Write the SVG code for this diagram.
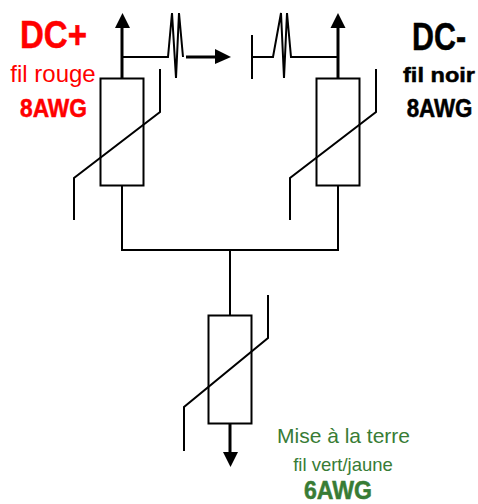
<svg xmlns="http://www.w3.org/2000/svg" width="478" height="504" viewBox="0 0 478 504">
<style>
.l{fill:none;stroke:#000;stroke-width:2}
.t{fill:none;stroke:#000;stroke-width:3}
.a{fill:#000}
.b{fill:none;stroke:#000;stroke-width:2}
text{font-family:"Liberation Sans",Arial,sans-serif;text-anchor:middle}
.h{font-weight:bold;stroke-width:.5}
.r{fill:#f00}.k{fill:#000}.g{fill:#387c35}
.h.r{stroke:#f00}.h.k{stroke:#000}.h.g{stroke:#387c35}
</style>
<rect width="478" height="504" fill="#fff"/>
<g id="connectors">
<path class="l" d="M122 186V250H338V186M230 250V315"/>
<path class="t" d="M122 78V28"/><polygon class="a" points="122.500,13 115,28 130,28"/>
<path class="t" d="M338 78V28"/><polygon class="a" points="338,13 330.500,28 345.500,28"/>
<path class="t" d="M230 423V453"/><polygon class="a" points="230.500,467 223,452 238,452"/>
<path class="l" d="M122 57H168L172 13L176 78L179 13L183 57"/>
<path class="t" d="M186 57H216"/><polygon class="a" points="231,57 215,49 215,64"/>
<path class="l" d="M252 35V79M252 57H273L281 13L284 78L287 13L291 57H338"/>
</g>
<g id="varistor-left"><rect class="b" x="100.500" y="78.500" width="43" height="107"/><path class="l" d="M160 69V112L74 178V220"/></g>
<g id="varistor-right"><rect class="b" x="316.500" y="78.500" width="43" height="107"/><path class="l" d="M376 69V112L290 178V220"/></g>
<g id="varistor-bottom"><rect class="b" x="208.500" y="315.500" width="43" height="108"/><path class="l" d="M268 295V338L184 407V451"/></g>
<g id="label-dcplus">
<text class="h r" x="53.500" y="48" font-size="39" textLength="67" lengthAdjust="spacingAndGlyphs">DC+</text>
<text class="r" x="53" y="82" font-size="24">fil rouge</text>
<text class="h r" x="53.500" y="117" font-size="25" textLength="67" lengthAdjust="spacingAndGlyphs">8AWG</text>
</g>
<g id="label-dcminus">
<text class="h k" x="439" y="50" font-size="38" textLength="54" lengthAdjust="spacingAndGlyphs">DC-</text>
<text class="h k" x="439" y="82" font-size="21" textLength="72" lengthAdjust="spacingAndGlyphs">fil noir</text>
<text class="h k" transform="translate(439.500 117) scale(.893 1)" font-size="25">8AWG</text>
</g>
<g id="label-terre">
<text class="g" x="343.500" y="443" font-size="21">Mise à la terre</text>
<text class="g" x="343" y="471" font-size="18.500">fil vert/jaune</text>
<text class="h g" x="338" y="498.500" font-size="25" textLength="68" lengthAdjust="spacingAndGlyphs">6AWG</text>
</g>
</svg>
